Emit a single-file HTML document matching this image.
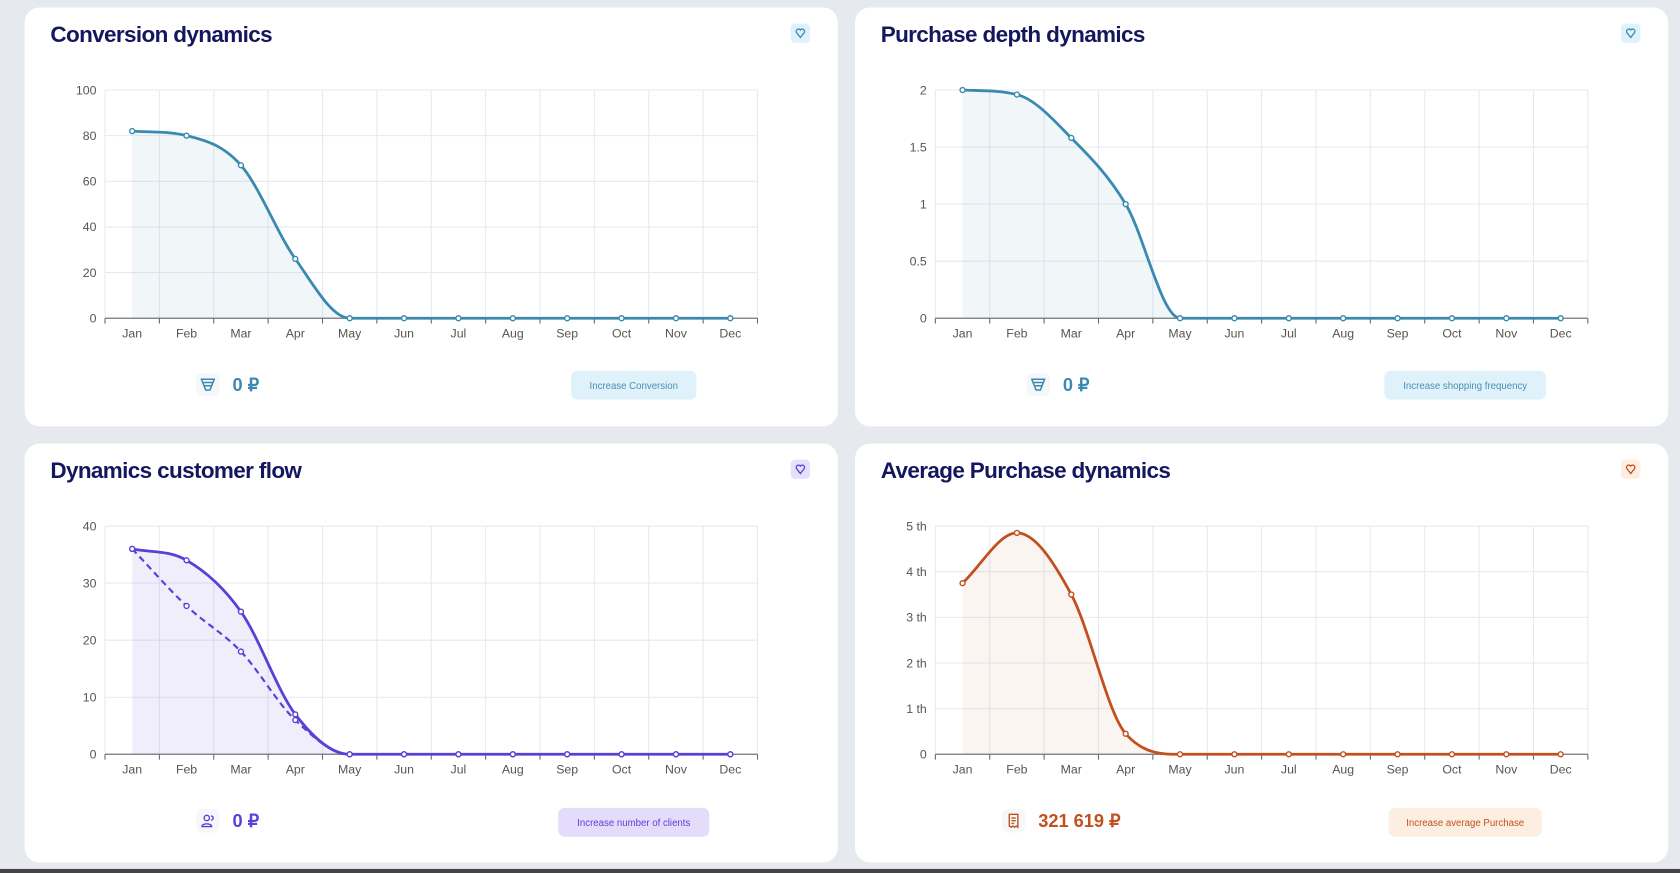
<!DOCTYPE html>
<html><head><meta charset="utf-8"><style>
html,body{margin:0;padding:0;width:1680px;height:873px;overflow:hidden;background:#e6eaee;font-family:"Liberation Sans",sans-serif}
#root{position:absolute;left:0;top:0;width:1568px;height:815px;transform:scale(1.07143);transform-origin:0 0}
.card{position:absolute;background:#fff;border-radius:14px;width:759px;height:391px}
.title{position:absolute;left:24px;top:14px;font-size:21px;font-weight:bold;color:#15175e;letter-spacing:-0.6px}
.heart{position:absolute;left:715px;top:15px;width:18px;height:18px;border-radius:4px;display:flex;align-items:center;justify-content:center}
.btn{position:absolute;height:27px;border-radius:6px;font-size:9px;display:flex;align-items:center;justify-content:center}
.val{position:absolute;top:343px;font-size:17px;font-weight:bold}
.ico{position:absolute;top:341px;width:22px;height:22px;border-radius:6px;background:#f6f7f9;display:flex;align-items:center;justify-content:center}
svg.chart{position:absolute;left:0;top:0}
#strip{position:absolute;left:0;top:811px;width:1568px;height:4px;background:#444}
</style></head><body><div id="root">
<div class="card" id="c1" style="left:23px;top:7px">
 <div class="title">Conversion dynamics</div>
 <div class="heart" style="background:#dff2fb"><svg width="10" height="10" viewBox="0 0 10 10"><path d="M5 9L1.5 4.5A2 2 0 0 1 5 2A2 2 0 0 1 8.5 4.5Z" fill="none" stroke="#3a8ab0" stroke-width="1.2"/></svg></div>
 <div class="ico" style="left:160px"><svg width="14" height="14" viewBox="0 0 14 14"><path d="M1 2H13L9 12H5Z M2.5 5H11.5 M4 8H10" fill="none" stroke="#3a8ab0" stroke-width="1.4"/></svg></div>
 <div class="val" style="left:194px;color:#3a8ab0">0 ₽</div>
 <div class="btn" style="left:510px;top:339px;width:117px;background:#dff2fb;color:#4a8fb0">Increase Conversion</div>
</div>
<div class="card" id="c2" style="left:798px;top:7px">
 <div class="title">Purchase depth dynamics</div>
 <div class="heart" style="background:#dff2fb"><svg width="10" height="10" viewBox="0 0 10 10"><path d="M5 9L1.5 4.5A2 2 0 0 1 5 2A2 2 0 0 1 8.5 4.5Z" fill="none" stroke="#3a8ab0" stroke-width="1.2"/></svg></div>
 <div class="ico" style="left:160px"><svg width="14" height="14" viewBox="0 0 14 14"><path d="M1 2H13L9 12H5Z M2.5 5H11.5 M4 8H10" fill="none" stroke="#3a8ab0" stroke-width="1.4"/></svg></div>
 <div class="val" style="left:194px;color:#3a8ab0">0 ₽</div>
 <div class="btn" style="left:494px;top:339px;width:151px;background:#dff2fb;color:#4a8fb0">Increase shopping frequency</div>
</div>
<div class="card" id="c3" style="left:23px;top:414px">
 <div class="title">Dynamics customer flow</div>
 <div class="heart" style="background:#e6e1fb"><svg width="10" height="10" viewBox="0 0 10 10"><path d="M5 9L1.5 4.5A2 2 0 0 1 5 2A2 2 0 0 1 8.5 4.5Z" fill="none" stroke="#5b3fd6" stroke-width="1.2"/></svg></div>
 <div class="ico" style="left:160px"><svg width="14" height="14" viewBox="0 0 14 14"><circle cx="6" cy="4.5" r="2.5" fill="none" stroke="#5b3fd6" stroke-width="1.3"/><path d="M1.5 12.5C1.5 9 10.5 9 10.5 12.5Z M10 2.5A2 2 0 0 1 10 6.5" fill="none" stroke="#5b3fd6" stroke-width="1.3"/></svg></div>
 <div class="val" style="left:194px;color:#5b3fd6">0 ₽</div>
 <div class="btn" style="left:498px;top:340px;width:141px;background:#e3dcfb;color:#5b3fd6">Increase number of clients</div>
</div>
<div class="card" id="c4" style="left:798px;top:414px">
 <div class="title">Average Purchase dynamics</div>
 <div class="heart" style="background:#fcefe2"><svg width="10" height="10" viewBox="0 0 10 10"><path d="M5 9L1.5 4.5A2 2 0 0 1 5 2A2 2 0 0 1 8.5 4.5Z" fill="none" stroke="#c2501e" stroke-width="1.2"/></svg></div>
 <div class="ico" style="left:137px"><svg width="14" height="14" viewBox="0 0 14 14"><path d="M3 1H11V13L9.5 12L8 13L6.5 12L5 13L3 12Z M5 4.5H9 M5 7H9 M5 9.5H7.5" fill="none" stroke="#c2501e" stroke-width="1.3"/></svg></div>
 <div class="val" style="left:171px;color:#c2501e">321 619 ₽</div>
 <div class="btn" style="left:498px;top:340px;width:143px;background:#fcefe2;color:#c2501e">Increase average Purchase</div>
</div>
<div id="strip"></div>
</div>
<script>
const months=["Jan","Feb","Mar","Apr","May","Jun","Jul","Aug","Sep","Oct","Nov","Dec"];
const conversionValues=[82,80,67,26,0,0,0,0,0,0,0,0];
const conversionTicks=["0","20","40","60","80","100"];
const depthValues=[2,1.96,1.58,1,0,0,0,0,0,0,0,0];
const depthTicks=["0","0.5","1","1.5","2"];
const flowValues=[36,34,25,7,0,0,0,0,0,0,0,0];
const flowPlanValues=[36,26,18,6,0,0,0,0,0,0,0,0];
const flowTicks=["0","10","20","30","40"];
const avgValues=[3.75,4.85,3.5,0.45,0,0,0,0,0,0,0,0];
const avgTicks=["0","1 th","2 th","3 th","4 th","5 th"];

const NS="http://www.w3.org/2000/svg";
function mk(p,t,a){const e=document.createElementNS(NS,t);for(const k in a)e.setAttribute(k,a[k]);p.appendChild(e);return e;}
function monoPath(pts){
 const n=pts.length,d=[],m=[];
 for(let i=0;i<n-1;i++)d.push((pts[i+1][1]-pts[i][1])/(pts[i+1][0]-pts[i][0]));
 for(let i=0;i<n;i++){
  if(i==0)m.push(d[0]);else if(i==n-1)m.push(d[n-2]);
  else m.push(d[i-1]*d[i]<=0?0:(d[i-1]+d[i])/2);
 }
 for(let i=0;i<n-1;i++){if(d[i]==0){m[i]=0;m[i+1]=0;continue;}
  const a=m[i]/d[i],b=m[i+1]/d[i],s=a*a+b*b;if(s>9){const t=3/Math.sqrt(s);m[i]=t*a*d[i];m[i+1]=t*b*d[i];}}
 let s="M"+pts[0][0]+","+pts[0][1];
 for(let i=0;i<n-1;i++){const h=(pts[i+1][0]-pts[i][0])/3;
  s+="C"+(pts[i][0]+h)+","+(pts[i][1]+m[i]*h)+" "+(pts[i+1][0]-h)+","+(pts[i+1][1]-m[i+1]*h)+" "+pts[i+1][0]+","+pts[i+1][1];}
 return s;
}
function chart(cardId,ticks,max,series,color,fill){
 const card=document.getElementById(cardId);
 const svg=mk(card,"svg",{class:"chart",width:759,height:391});
 
 
 const L=75,R=684,T=77,B=290,W=R-L,H=B-T;
 const x=i=>L+(i+0.5)*W/12, y=v=>B-v/max*H;
 for(let i=0;i<ticks.length;i++){const yy=T+i*H/(ticks.length-1);
  mk(svg,"line",{x1:L,x2:R,y1:yy,y2:yy,stroke:"#e7e9f2","stroke-width":1});
  const t=mk(svg,"text",{x:L-8,y:B-i*H/(ticks.length-1)+4,"text-anchor":"end","font-size":11.5,fill:"#555"});t.textContent=ticks[i];
  
  }
 for(let i=0;i<=12;i++){const xx=L+i*W/12;
  mk(svg,"line",{x1:xx,x2:xx,y1:T,y2:B,stroke:"#e7e9f2","stroke-width":1});
  mk(svg,"line",{x1:xx,x2:xx,y1:B,y2:B+5,stroke:"#666","stroke-width":1});}
 mk(svg,"line",{x1:L,x2:R,y1:B,y2:B,stroke:"#777","stroke-width":1.2});
 months.forEach((mo,i)=>{const t=mk(svg,"text",{x:x(i),y:B+18,"text-anchor":"middle","font-size":11.5,fill:"#555"});t.textContent=mo;
  
  });
 series.forEach((s,si)=>{
  const pts=s.values.map((v,i)=>[x(i),y(v)]);
  const p=monoPath(pts);
  if(si==0){const a=mk(svg,"path",{d:p+"L"+pts[pts.length-1][0]+","+B+"L"+pts[0][0]+","+B+"Z",fill:fill});
   
   }
  const l=mk(svg,"path",{d:p,fill:"none",stroke:color,"stroke-width":s.dash?2:2.6,"stroke-dasharray":s.dash?"6,4":"none"});
  
  
  pts.forEach(pt=>{const c=mk(svg,"circle",{cx:pt[0],cy:pt[1],r:2.3,fill:"#fff",stroke:color,"stroke-width":1.3});
   
   });
 });
}
chart("c1",conversionTicks,100,[{values:conversionValues,name:"conversion-line"}],"#3a8ab0","rgba(58,138,176,0.07)");
chart("c2",depthTicks,2,[{values:depthValues,name:"purchase-depth-line"}],"#3a8ab0","rgba(58,138,176,0.07)");
chart("c3",flowTicks,40,[{values:flowValues,name:"customer-flow-line"},{values:flowPlanValues,name:"customer-flow-dashed-line",dash:true}],"#5b3fd6","rgba(91,63,214,0.09)");
chart("c4",avgTicks,5,[{values:avgValues,name:"average-purchase-line"}],"#c2501e","rgba(194,80,30,0.06)");
</script></body></html>
